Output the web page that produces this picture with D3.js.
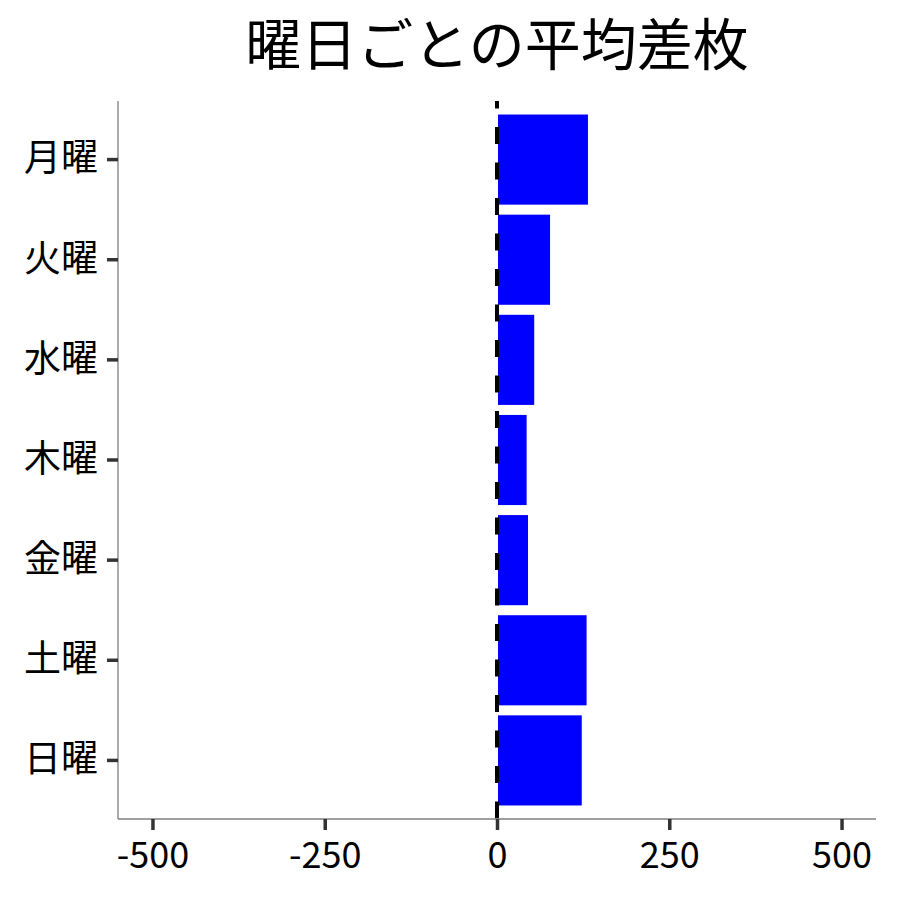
<!DOCTYPE html>
<html>
<head>
<meta charset="utf-8">
<script src="https://cdn.jsdelivr.net/npm/d3@7"></script>
<style>
body { margin: 0; background: #fff; }
text { font-family: "Noto Sans CJK JP", "Noto Sans", sans-serif; }
</style>
</head>
<body>
<div id="chart"></div>
<script>
var days = ['月曜', '火曜', '水曜', '木曜', '金曜', '土曜', '日曜'];
var avgDiff = [132, 77, 54, 43, 45, 130, 123];
var xTicks = [-500, -250, 0, 250, 500];
var titleText = '曜日ごとの平均差枚';

var width = 900, height = 900;
var margin = {top: 101, right: 24, bottom: 81, left: 118};

var svg = d3.select('#chart').append('svg')
	.attr('width', width).attr('height', height);

var x = d3.scaleLinear()
	.domain([-550, 550])
	.range([margin.left, width - margin.right]);

var y = d3.scaleBand()
	.domain(days)
	.range([margin.top, height - margin.bottom])
	.paddingInner(0.1)
	.paddingOuter(0.135);

// bars
svg.append('g').selectAll('rect')
	.data(days)
	.enter().append('rect')
	.attr('x', function(d, i){ return x(Math.min(0, avgDiff[i])) + 1; })
	.attr('y', function(d){ return y(d); })
	.attr('width', function(d, i){ return Math.abs(x(avgDiff[i]) - x(0)) - 1; })
	.attr('height', y.bandwidth())
	.attr('fill', '#0000ff');

// zero line
svg.append('line')
	.attr('x1', x(0)).attr('x2', x(0))
	.attr('y1', margin.top).attr('y2', height - margin.bottom)
	.attr('stroke', 'black')
	.attr('stroke-width', 4)
	.attr('stroke-dasharray', '17,18.5')
	.attr('stroke-dashoffset', 9.5);

// x axis
var xAxis = svg.append('g')
	.attr('transform', 'translate(0,' + (height - margin.bottom) + ')')
	.call(d3.axisBottom(x).tickValues(xTicks).tickSize(11).tickPadding(12).tickFormat(d3.format('d')));
xAxis.select('.domain').attr('stroke', '#7f7f7f').attr('stroke-width', 1.3)
	.attr('d', 'M' + margin.left + ',0H' + (width - margin.right));
xAxis.selectAll('.tick line').attr('stroke', '#333').attr('stroke-width', 3.5);
xAxis.selectAll('.tick text')
	.attr('fill', 'black')
	.style('font-size', '36px')
	.text(function(d){ return String(d).replace('−', '-'); });

// y axis
var yAxis = svg.append('g')
	.attr('transform', 'translate(' + margin.left + ',0)')
	.call(d3.axisLeft(y).tickSize(11).tickPadding(9));
yAxis.select('.domain').attr('stroke', '#7f7f7f').attr('stroke-width', 1.3)
	.attr('d', 'M0,' + margin.top + 'V' + (height - margin.bottom));
yAxis.selectAll('.tick line').attr('stroke', '#333').attr('stroke-width', 3.5);
yAxis.selectAll('.tick text')
	.attr('fill', 'black')
	.style('font-size', '37px');

// title
svg.append('text')
	.attr('x', x(0))
	.attr('y', 65)
	.attr('text-anchor', 'middle')
	.style('font-size', '56px')
	.text(titleText);
</script>
</body>
</html>
